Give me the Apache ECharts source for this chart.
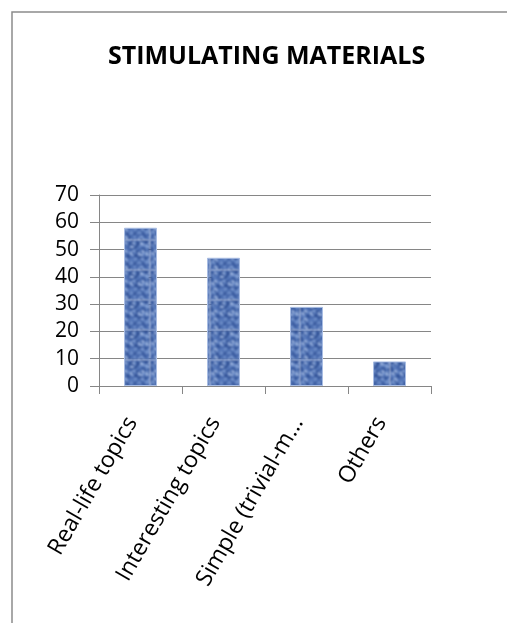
<!DOCTYPE html>
<html>
<head>
<meta charset="utf-8">
<script src="https://cdn.jsdelivr.net/npm/echarts@6/dist/echarts.min.js"></script>
<style>
  html, body { margin: 0; padding: 0; background: #fff; }
  #chart { width: 507px; height: 623px; }
</style>
</head>
<body>
<div id="chart"></div>
<script>
// Survey answers: which materials students find stimulating
const categories = ['Real-life topics', 'Interesting topics', 'Simple (trivial-m\u2026', 'Others'];
const responses = [58, 47, 29, 9];
const yTicks = [0, 10, 20, 30, 40, 50, 60, 70];

// Mottled blue fill for the columns, built on a small tiled canvas
function makeTexture() {
  const size = 30;
  const raw = document.createElement('canvas');
  raw.width = size; raw.height = size;
  const c = raw.getContext('2d');
  c.fillStyle = '#5e80bf';
  c.fillRect(0, 0, size, size);
  const shades = ['#3d5fa4', '#8aa6d8', '#4b6db1', '#a3b9e0', '#36589d', '#7493cb', '#2f4f93'];
  for (let y = 0; y < size; y += 2) {
    for (let x = 0; x < size; x += 2) {
      const k = (x * 11 + y * 17 + ((x * y) >> 3) + ((x ^ y) & 5)) % 10;
      if (k < shades.length) {
        c.fillStyle = shades[k];
        c.fillRect(x, y, 2 + (k & 1), 2 + ((k >> 1) & 1));
      }
    }
  }
  const out = document.createElement('canvas');
  out.width = size; out.height = size;
  const o = out.getContext('2d');
  o.filter = 'blur(1px)';
  // draw 3x3 copies so the blur wraps seamlessly
  for (let dy = -1; dy <= 1; dy++)
    for (let dx = -1; dx <= 1; dx++)
      o.drawImage(raw, dx * size, dy * size);
  return out;
}

const chart = echarts.init(document.getElementById('chart'), null, { renderer: 'canvas' });
const font = '"Open Sans", "Liberation Sans", sans-serif';

chart.setOption({
  animation: false,
  backgroundColor: '#ffffff',
  title: {
    text: 'STIMULATING MATERIALS',
    left: 103,
    top: 39,
    textStyle: { fontFamily: font, fontWeight: 'bold', fontSize: 25, color: '#000' }
  },
  graphic: [{
    type: 'rect',
    shape: { x: 12, y: 12, width: 520, height: 640 },
    style: { fill: null, stroke: '#8c8c8c', lineWidth: 1.5 },
    silent: true
  }],
  grid: { left: 99, top: 195, width: 332, height: 191, containLabel: false },
  xAxis: {
    type: 'category',
    data: categories,
    axisLine: { show: true, lineStyle: { color: '#868686', width: 1 } },
    axisTick: { show: true, alignWithLabel: false, length: 8, lineStyle: { color: '#868686' } },
    axisLabel: {
      interval: 0,
      rotate: 60,
      margin: 18,
      padding: [0, 17, 0, 0],
      fontFamily: font,
      fontSize: 23,
      color: '#000'
    }
  },
  yAxis: {
    type: 'value',
    min: 0,
    max: 70,
    interval: 10,
    axisLine: { show: true, lineStyle: { color: '#868686', width: 1 } },
    axisTick: { show: true, length: 9, lineStyle: { color: '#868686' } },
    splitLine: { show: true, lineStyle: { color: '#868686', width: 1 } },
    axisLabel: {
      margin: 20,
      fontFamily: font,
      fontSize: 21,
      color: '#000',
      formatter: function (v) { return yTicks.indexOf(v) >= 0 ? String(v) : ''; }
    }
  },
  series: [{
    type: 'bar',
    data: responses,
    barWidth: 33,
    itemStyle: {
      color: { image: makeTexture(), repeat: 'repeat' },
      borderColor: '#a9bde3',
      borderWidth: 1
    }
  }]
});
</script>
</body>
</html>
